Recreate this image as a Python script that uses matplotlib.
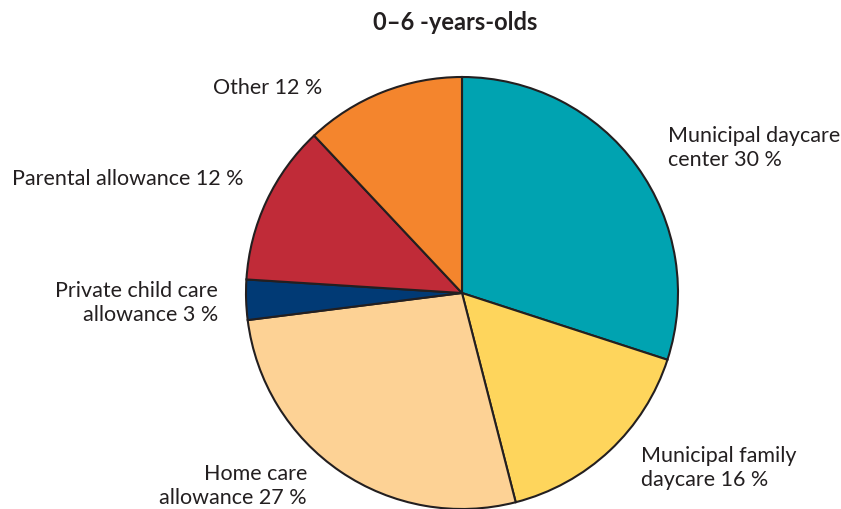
import matplotlib
matplotlib.use("Agg")
import matplotlib.pyplot as plt

W, H = 841, 509
title = "0\u20136 -years-olds"
categories = ["Municipal daycare\ncenter", "Municipal family\ndaycare", "Home care\nallowance",
              "Private child care\nallowance", "Parental allowance", "Other"]
values = [30, 16, 27, 3, 12, 12]
colors = ["#00A3B1", "#FED55C", "#FDD295", "#013A75", "#C02B38", "#F4852D"]

plt.rcParams['font.family'] = ['Lato', 'DejaVu Sans']
fig = plt.figure(figsize=(W / 100, H / 100), dpi=100)
cx, cy, r = 462, 293, 216
ax = fig.add_axes([(cx - r) / W, (H - cy - r) / H, 2 * r / W, 2 * r / H])
wedges, _ = ax.pie(values, colors=colors, startangle=90, counterclock=False,
                   wedgeprops=dict(edgecolor="#231f20", linewidth=1.5))
for w in wedges:
    w.set_clip_on(False)
ax.set_xlim(-1, 1)
ax.set_ylim(-1, 1)
ax.set_aspect('auto')
ax.axis('off')

def ftext(x, y, s, ha, **kw):
    fig.text(x / W, 1 - y / H, s, ha=ha, va='center', fontsize=15.5, color="#231f20",
             linespacing=1.22, **kw)

pos = [(668, 148, 'left'), (641, 468, 'left'), (307, 486, 'right'),
       (218, 303, 'right'), (243, 179, 'right'), (322, 88, 'right')]
for (x, y, ha), c, v in zip(pos, categories, values):
    ftext(x, y, f"{c} {v} %", ha, multialignment=ha)

fig.text(455 / W, 1 - 22 / H, title, ha='center', va='center', fontsize=17,
         fontweight='bold', color="#231f20")
fig.savefig("out.png", dpi=100)
